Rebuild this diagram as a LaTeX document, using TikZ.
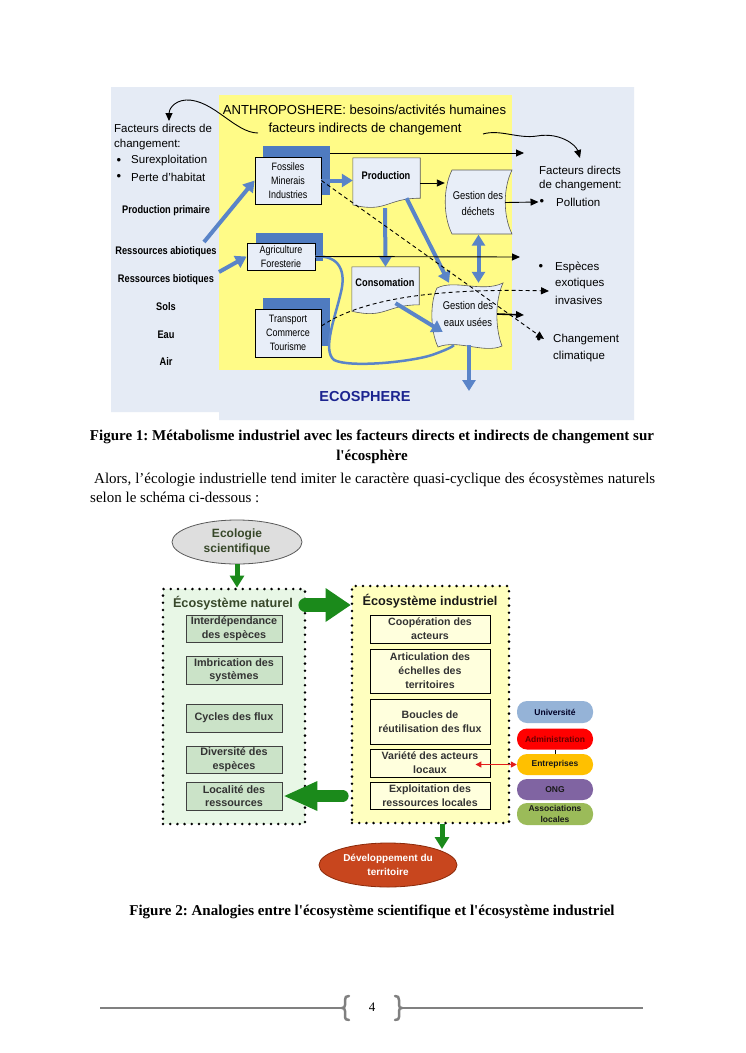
\documentclass[tikz,border=0pt]{standalone}
\usepackage{fontspec}
\setmainfont{Liberation Serif}
\newfontfamily\lsans{Liberation Sans}
\newfontfamily\lnar[FakeStretch=0.84]{Liberation Sans}
\usetikzlibrary{arrows.meta,shapes.geometric}
\frenchspacing
\definecolor{bgblue}{HTML}{E5EBF5}
\definecolor{ayellow}{HTML}{FFFB87}
\definecolor{boxfill}{HTML}{E8EEF8}
\definecolor{shblue}{HTML}{4F7BC0}
\definecolor{arblue}{HTML}{5A84C8}
\definecolor{ecoblue}{HTML}{1C2490}
\definecolor{natfill}{HTML}{E8F7E6}
\definecolor{natbox}{HTML}{CBE3C8}
\definecolor{olivetxt}{HTML}{38482A}
\definecolor{indfill}{HTML}{FFFFBF}
\definecolor{indbox}{HTML}{FFFFDD}
\definecolor{agreen}{HTML}{1B8A1B}
\definecolor{devred}{HTML}{C8461E}
\definecolor{devline}{HTML}{8B2A0A}
\definecolor{univ}{HTML}{95B3D7}
\definecolor{entr}{HTML}{FFC000}
\definecolor{ongc}{HTML}{8064A2}
\definecolor{assoc}{HTML}{9BBB59}
\definecolor{footgray}{HTML}{808080}
\definecolor{ecogray}{HTML}{DEDEDE}
\definecolor{redarr}{HTML}{E21C1C}
\tikzset{
 sanslab/.style={font=\lsans\fontsize{11.5}{13}\selectfont, inner sep=0pt},
 bulletlab/.style={font=\lsans\fontsize{13}{13}\selectfont, inner sep=0pt},
 narbold/.style={font=\lnar\bfseries\fontsize{11}{13}\selectfont, inner sep=0pt},
 fbox/.style={draw=black, line width=0.8pt, fill=boxfill, align=center, inner sep=0pt, font=\lnar\fontsize{10.7}{14}\selectfont},
 shbox/.style={fill=shblue, inner sep=0pt},
 shapeline/.style={draw=black!65, line width=0.6pt, fill=boxfill},
 thickarr/.style={draw=arblue, line width=4pt, -{Triangle[width=13pt,length=11pt]}},
 thinarr/.style={draw=black, line width=0.9pt, -{Triangle[width=7pt,length=8pt]}},
 dotbox/.style={draw=black, line width=2.8pt, dash pattern=on 0pt off 7.2pt, line cap=round, inner sep=0pt},
 nbox/.style={draw=black!75, line width=0.8pt, fill=natbox, minimum width=96pt, inner sep=0pt, align=center, text=black!80, font=\lsans\bfseries\fontsize{10.8}{13.5}\selectfont},
 ibox/.style={draw=black, line width=0.9pt, fill=indbox, minimum width=120pt, inner sep=0pt, align=center, text=black!80, font=\lsans\bfseries\fontsize{10.6}{14}\selectfont},
 garr/.style={draw=agreen, line width=5pt, -{Triangle[width=14pt,length=12pt]}},
 pill/.style={rounded corners=10pt, minimum width=76pt, minimum height=21pt, inner sep=0pt, align=center, font=\lsans\bfseries\fontsize{8.5}{10.5}\selectfont},
}
\begin{document}
\begin{tikzpicture}[x=1pt,y=-1pt]
\useasboundingbox (0,0) rectangle (745,1053);
\fill[white] (0,0) rectangle (745,1053);

% ===== Figure 1 =====
\fill[bgblue] (111,87) -- (634,87) -- (634,420) -- (219,420) -- (219,412) -- (111,412) -- cycle;
\fill[ayellow] (219,95) rectangle (512,370);

\node[font=\lsans\fontsize{13.1}{16}\selectfont, inner sep=0pt] (anth1) at (364.5,110) {ANTHROPOSHERE: besoins/activités humaines};
\node[font=\lsans\fontsize{13.1}{16}\selectfont, inner sep=0pt] (anth2) at (365,129) {facteurs indirects de changement};

% left column
\node[sanslab, anchor=west] (fd1) at (114,128) {Facteurs directs de};
\node[sanslab, anchor=west] (fd2) at (114,145) {changement:};
\node[bulletlab] (bu1) at (119,161) {•};
\node[sanslab, anchor=west] (sur) at (131,161) {Surexploitation};
\node[bulletlab] (bu2) at (119,177) {•};
\node[sanslab, anchor=west] (per) at (131,177) {Perte d’habitat};
\node[narbold] (pp) at (166,211) {Production primaire};
\node[narbold] (ra) at (166,252) {Ressources abiotiques};
\node[narbold] (rb) at (166,280) {Ressources biotiques};
\node[narbold] (sol) at (166,307) {Sols};
\node[narbold] (eau) at (166,335) {Eau};
\node[narbold] (air) at (166,362) {Air};

% right column
\node[sanslab, anchor=west] (fr1) at (539,170) {Facteurs directs};
\node[sanslab, anchor=west] (fr2) at (539,186) {de changement:};
\node[bulletlab] (polb) at (542,202) {•};
\node[sanslab, anchor=west] (pol) at (556,202) {Pollution};
\node[bulletlab] (espb) at (541,267) {•};
\node[sanslab, anchor=west] (esp1) at (555,267) {Espèces};
\node[sanslab, anchor=west] (esp2) at (555,284) {exotiques};
\node[sanslab, anchor=west] (esp3) at (555,300) {invasives};
\node[bulletlab] (chb) at (539,340) {•};
\node[sanslab, anchor=west] (ch1) at (553,340) {Changement};
\node[sanslab, anchor=west] (ch2) at (553,357) {climatique};

% boxes with shadows
\node[shbox, minimum width=67pt, minimum height=49pt] (fossh) at (296.5,170.5) {};
\node[fbox, minimum width=66pt, minimum height=47pt] (fos) at (288,180.5) {Fossiles\\Minerais\\Industries};
\node[shbox, minimum width=67pt, minimum height=28pt] (agrsh) at (289.5,247) {};
\node[fbox, minimum width=68pt, minimum height=27pt] (agri) at (281,256.5) {Agriculture\\Foresterie};
\node[shbox, minimum width=67pt, minimum height=48pt] (trsh) at (296.5,322) {};
\node[fbox, minimum width=66pt, minimum height=48pt] (trans) at (288,333) {Transport\\Commerce\\Tourisme};

% Production (document shape)
\node[inner sep=0pt, minimum width=67pt, minimum height=50pt] (prod) at (386.5,183) {};
\draw[shapeline] (prod.north west) -- (prod.north east) -- ([yshift=10pt]prod.south east)
  .. controls ([yshift=10pt]prod.south) and ([yshift=-5pt]prod.south) .. ([yshift=3.3pt]prod.south west) -- cycle;
\node[font=\lnar\bfseries\fontsize{11}{13}\selectfont, inner sep=0pt] (prodt) at (386,176) {Production};

% Consomation
\node[inner sep=0pt, minimum width=67pt, minimum height=47pt] (cons) at (385.5,290.5) {};
\draw[shapeline] (cons.north west) -- (cons.north east) -- ([yshift=9.4pt]cons.south east)
  .. controls ([yshift=9.4pt]cons.south) and ([yshift=-5pt]cons.south) .. ([yshift=3pt]cons.south west) -- cycle;
\node[font=\lnar\bfseries\fontsize{11}{13}\selectfont, inner sep=0pt] (const) at (385,283) {Consomation};

% Gestion des dechets
\node[inner sep=0pt, minimum width=67pt, minimum height=64pt] (ded) at (478.5,202.5) {};
\draw[shapeline] (452,170) -- (512,170) .. controls (503,188) and (503,216) .. (512,234) -- (452,234)
  .. controls (443,216) and (443,188) .. (452,170) -- cycle;
\node[font=\lnar\fontsize{11.2}{16}\selectfont, align=center, inner sep=0pt] (dedt) at (478,203) {Gestion des\\déchets};

% Gestion des eaux usees
\node[inner sep=0pt, minimum width=68pt, minimum height=62pt] (eaux) at (469,314) {};
\draw[shapeline] (437,288) .. controls (455,279) and (482,293) .. (503,283)
  .. controls (495,300) and (495,328) .. (502,346)
  .. controls (484,354) and (458,339) .. (438,347)
  .. controls (430,330) and (430,302) .. (437,288) -- cycle;
\node[font=\lnar\fontsize{11.2}{17}\selectfont, align=center, inner sep=0pt] (eauxt) at (468,314) {Gestion des\\eaux usées};

% coordinates for free ends
\coordinate (raout) at (204,242);
\coordinate (rbout) at (219,272);
\coordinate (eauxout) at (469,391);
\coordinate (topend) at (524,153);
\coordinate (agriend) at (520,257);
\coordinate (eauxend) at (524,315);
\coordinate (climat) at (544,339);
\coordinate (inv) at (549,291);
\coordinate (anthstart) at (258,133);
\coordinate (fdtop) at (169,121);
\coordinate (anthend) at (483,134);
\coordinate (frtop) at (580,158);

% thick blue arrows
\draw[thickarr] (raout) -- (fos.west);
\draw[thickarr] (rbout) -- (agri.west);
\draw[thickarr] (fos.east) -- (fos.east -| prod.west);
\draw[thickarr] ([xshift=-1.5pt]prod.south) -- (cons.north);
\draw[thickarr] ([xshift=20pt,yshift=10pt]prod.south) -- ([xshift=-20pt]eaux.north);
\draw[thickarr] ([xshift=10pt,yshift=11pt]cons.south) -- ([xshift=8pt,yshift=-18pt]eaux.west);
\draw[thickarr, {Triangle[width=13pt,length=11pt]}-{Triangle[width=13pt,length=11pt]}] (ded.south) -- (ded.south |- eaux.north);
\draw[thickarr] (eaux.south) -- (eauxout);
\draw[arblue, line width=2.5pt] (agri.east) .. controls (340,255) and (346,272) .. (341,292)
  .. controls (335,318) and (322,350) .. (334,360)
  .. controls (350,368) and (410,362) .. (432,355)
  .. controls (446,350) and (452,347) .. ([xshift=-15pt]eaux.south);

% thin black arrows
\draw[thinarr] (fossh.east |- topend) -- (topend);
\draw[thinarr] (prod.east) -- (prod.east -| ded.west);
\draw[thinarr] ([xshift=-7pt]ded.east) -- ([xshift=-1pt]polb.west);
\draw[thinarr] (agri.east) -- (agriend);
\draw[thinarr, line width=1.6pt] ([xshift=-6pt]eaux.east) -- (eauxend);
\draw[thinarr, dash pattern=on 4pt off 3pt] (fos.east) -- (climat);
\draw[thinarr, dash pattern=on 4pt off 3pt] ([yshift=7pt]trans.east) .. controls (360,300) and (430,288) .. (inv);
\draw[thinarr] (anthstart) .. controls (235,133) and (213,99) .. (186,100) .. controls (173,101) and (169,110) .. (fdtop);
\draw[thinarr] (anthend) .. controls (500,129) and (518,139) .. (537,136) .. controls (560,132) and (576,145) .. (frtop);

\node[font=\lsans\bfseries\fontsize{14.5}{16}\selectfont, text=ecoblue, inner sep=0pt] (ecos) at (365,397) {ECOSPHERE};

% captions and text
\node[anchor=base, font=\bfseries\fontsize{15}{18}\selectfont, inner sep=0pt] (cap1a) at (372,440) {Figure 1: Métabolisme industriel avec les facteurs directs et indirects de changement sur};
\node[anchor=base, font=\bfseries\fontsize{15}{18}\selectfont, inner sep=0pt] (cap1b) at (372,460) {l\textquotesingle écosphère};
\node[anchor=base west, font=\fontsize{15}{18}\selectfont, inner sep=0pt] (body1) at (90,483) {\makebox[565pt][s]{\hspace*{4pt}Alors, l’écologie industrielle tend imiter le caractère quasi-cyclique des écosystèmes naturels}};
\node[anchor=base west, font=\fontsize{15}{18}\selectfont, inner sep=0pt] (body2) at (90,502) {selon le schéma ci-dessous~:};

% ===== Figure 2 =====
\node[ellipse, draw=black!65, line width=0.8pt, fill=ecogray, minimum width=130pt, minimum height=44pt, inner sep=0pt, align=center, text=olivetxt, font=\lsans\bfseries\fontsize{12}{15}\selectfont] (eco) at (237,542) {Ecologie\\scientifique};

\node[dotbox, fill=natfill, minimum width=142pt, minimum height=235pt] (nat) at (234,706.5) {};
\node[dotbox, fill=indfill, minimum width=157pt, minimum height=237pt] (ind) at (430.5,704.5) {};

\draw[garr] (eco.south) -- (eco.south |- nat.north);

\node[font=\lsans\bfseries\fontsize{12.7}{15}\selectfont, text=olivetxt, inner sep=0pt] (natt) at (233,603) {Écosystème naturel};
\node[font=\lsans\bfseries\fontsize{12.7}{15}\selectfont, text=black!90, inner sep=0pt] (indt) at (430,601) {Écosystème industriel};

\node[nbox, minimum height=27pt] (n1) at (234,628.5) {Interdépendance\\des espèces};
\node[nbox, minimum height=28pt] (n2) at (234,670) {Imbrication des\\systèmes};
\node[nbox, minimum height=28pt] (n3) at (234,718) {Cycles des flux};
\node[nbox, minimum height=27pt] (n4) at (234,759.5) {Diversité des\\espèces};
\node[nbox, minimum height=28pt] (n5) at (234,796) {Localité des\\ressources};

\node[ibox, minimum height=28pt] (i1) at (430,629) {Coopération des\\acteurs};
\node[ibox, minimum height=44pt] (i2) at (430,671) {Articulation des\\échelles des\\territoires};
\node[ibox, minimum height=45pt] (i3) at (430,721.5) {Boucles de\\réutilisation des flux};
\node[ibox, minimum height=28pt] (i4) at (430,763) {Variété des acteurs\\locaux};
\node[ibox, minimum height=27pt] (i5) at (430,795.5) {Exploitation des\\ressources locales};

% big green arrows
\coordinate (g1a) at (nat.east |- 0,605);
\coordinate (g1b) at (ind.west |- 0,605);
\draw[agreen, line width=14pt, line cap=round] ([xshift=-1pt]g1a) -- ([xshift=-24pt]g1b);
\fill[agreen] ([xshift=-25pt,yshift=17pt]g1b) -- (g1b) -- ([xshift=-25pt,yshift=-17pt]g1b) -- cycle;
\coordinate (g2a) at (ind.west |- 0,796);
\coordinate (g2b) at (n5.east |- 0,796);
\draw[agreen, line width=12pt, line cap=round] ([xshift=-8pt]g2a) -- ([xshift=34pt]g2b);
\fill[agreen] ([xshift=35pt,yshift=15pt]g2b) -- ([xshift=2pt]g2b) -- ([xshift=35pt,yshift=-15pt]g2b) -- cycle;

\node[ellipse, draw=devline, line width=0.8pt, fill=devred, minimum width=138pt, minimum height=44pt, inner sep=0pt, align=center, text=white, font=\lsans\bfseries\fontsize{10}{14}\selectfont] (dev) at (388,865) {Développement du\\territoire};
\coordinate (devtop) at (442,849);
\draw[garr] (ind.south -| devtop) -- (devtop);

% actor pills
\node[pill, fill=univ, text=black!85!blue, minimum height=22pt] (uni) at (555,712) {Université};
\node[pill, fill=red, text=black!60!red] (adm) at (555,739) {Administration};
\node[pill, fill=entr, text=black!90] (ent) at (555,764.5) {Entreprises};
\node[pill, fill=ongc, text=black!90] (ong) at (555,789.5) {ONG};
\node[pill, fill=assoc, text=black!90, minimum height=22pt] (aso) at (555,814) {Associations\\locales};
\draw[black, line width=0.6pt] (adm.south) -- (ent.north);
\draw[redarr, line width=1.3pt, {Triangle[width=6pt,length=6pt]}-{Triangle[width=6pt,length=6pt]}] ([xshift=-15pt,yshift=-1.5pt]i4.east) -- (ent.west);

\node[anchor=base, font=\bfseries\fontsize{15}{18}\selectfont, inner sep=0pt] (cap2) at (372,915) {Figure 2: Analogies entre l\textquotesingle écosystème scientifique et l\textquotesingle écosystème industriel};

% footer
\node[font=\fontsize{13}{15}\selectfont, inner sep=0pt] (pnum) at (372,1007) {4};
\draw[footgray, line width=1.5pt] (100,1008) -- (342,1008);
\draw[footgray, line width=1.5pt] (402,1008) -- (643,1008);
\draw[footgray, line width=2.5pt, line cap=round, line join=round] (349,996) .. controls (346,996) and (345,997) .. (345,1000) -- (345,1005) .. controls (345,1007) and (344,1008) .. (342,1008) .. controls (344,1008) and (345,1009) .. (345,1011) -- (345,1017) .. controls (345,1019) and (346,1020) .. (349,1020);
\draw[footgray, line width=2.5pt, line cap=round, line join=round] (395,996) .. controls (398,996) and (399,997) .. (399,1000) -- (399,1005) .. controls (399,1007) and (400,1008) .. (402,1008) .. controls (400,1008) and (399,1009) .. (399,1011) -- (399,1017) .. controls (399,1019) and (398,1020) .. (395,1020);
\end{tikzpicture}
\end{document}
